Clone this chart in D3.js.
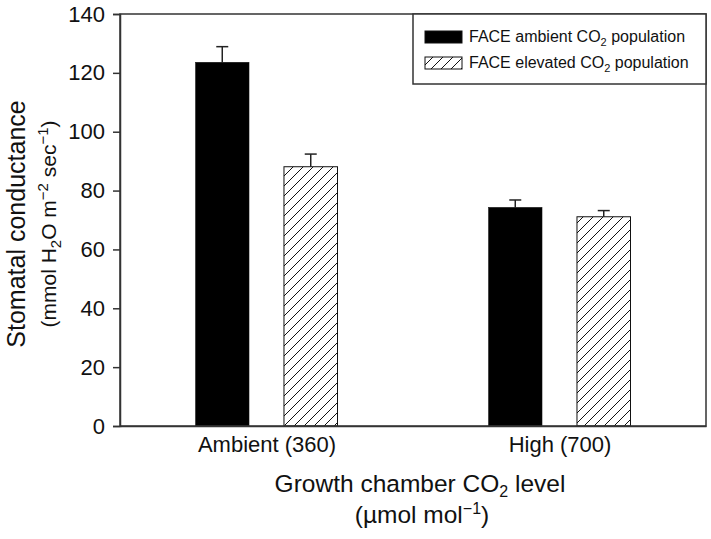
<!DOCTYPE html>
<html><head><meta charset="utf-8">
<script src="https://cdn.jsdelivr.net/npm/d3@7"></script>
<style>body{margin:0;background:#fff}svg{display:block;font-family:"Liberation Sans",Arial,sans-serif}</style>
</head><body><svg id="c" width="711" height="539"></svg>
<script>
const categories = ["Ambient (360)", "High (700)"];
const seriesNames = ["FACE ambient CO2 population", "FACE elevated CO2 population"];
const ambientPop = [123.6, 74.3];
const ambientErr = [5.3, 2.5];
const elevatedPop = [88.1, 71.1];
const elevatedErr = [4.3, 2.1];
const yTicks = [0, 20, 40, 60, 80, 100, 120, 140];

const svg = d3.select("#c");
const L = 120, R = 706, T = 14, B = 426;

const defs = svg.append("defs");
const pat = defs.append("pattern").attr("id","hatch").attr("patternUnits","userSpaceOnUse")
  .attr("width",10).attr("height",10);
pat.append("path").attr("d","M-1,11 L11,-1 M-3,3 L3,-3 M7,13 L13,7")
  .attr("stroke","#111").attr("stroke-width",1).attr("fill","none");

const x0 = d3.scalePoint().domain(categories).range([L, R]).padding(0.5);
const x1 = d3.scaleBand().domain([0,1]).range([-71, 71]).paddingInner(0.395);
const y = d3.scaleLinear().domain([0, 140]).range([B, T]);

const series = [
  {vals: ambientPop, errs: ambientErr, fill: "#000"},
  {vals: elevatedPop, errs: elevatedErr, fill: "url(#hatch)"}
];

series.forEach((s, si) => {
  const g = svg.append("g");
  categories.forEach((c, ci) => {
    const xb = x0(c) + x1(si), w = x1.bandwidth();
    const xc = xb + w/2;
    g.append("line").attr("x1",xc).attr("x2",xc).attr("y1",y(s.vals[ci])).attr("y2",y(s.vals[ci]+s.errs[ci]))
      .attr("stroke","#222").attr("stroke-width",1.5);
    g.append("line").attr("x1",xc-6).attr("x2",xc+6).attr("y1",y(s.vals[ci]+s.errs[ci])).attr("y2",y(s.vals[ci]+s.errs[ci]))
      .attr("stroke","#222").attr("stroke-width",1.5);
    g.append("rect").attr("x",xb).attr("y",y(s.vals[ci])).attr("width",w).attr("height",B - y(s.vals[ci]))
      .attr("fill", s.fill).attr("stroke","#111").attr("stroke-width", si===1?1:0.5);
  });
});

svg.append("rect").attr("x",L).attr("y",T).attr("width",R-L).attr("height",B-T)
  .attr("fill","none").attr("stroke","#333").attr("stroke-width",1.5);

const yAxis = svg.append("g").attr("transform",`translate(${L},0)`)
  .call(d3.axisLeft(y).tickValues(yTicks).tickSize(7).tickPadding(8));
yAxis.select(".domain").attr("stroke","#333").attr("stroke-width",1.5);
yAxis.selectAll(".tick line").attr("stroke","#333").attr("stroke-width",1.5);
yAxis.selectAll("text").attr("font-size",22).attr("fill","#111").attr("font-family","Liberation Sans, Arial, sans-serif");

const xAxis = svg.append("g").attr("transform",`translate(0,${B})`)
  .call(d3.axisBottom(x0).tickSize(0).tickPadding(10));
xAxis.select(".domain").attr("stroke","#333").attr("stroke-width",1.5);
xAxis.selectAll("text").attr("font-size",22).attr("fill","#111").attr("font-family","Liberation Sans, Arial, sans-serif");

const xt = svg.append("text").attr("x",420).attr("y",492).attr("text-anchor","middle").attr("font-size",24.5).attr("fill","#111");
xt.append("tspan").text("Growth chamber CO");
xt.append("tspan").attr("font-size",16).attr("dy",5).text("2");
xt.append("tspan").attr("dy",-5).text(" level");
const xt2 = svg.append("text").attr("x",422).attr("y",523).attr("text-anchor","middle").attr("font-size",24.5).attr("fill","#111");
xt2.append("tspan").text("(µmol mol");
xt2.append("tspan").attr("font-size",16).attr("dy",-9).text("−1");
xt2.append("tspan").attr("dy",9).text(")");

const yc = (T+B)/2 + 4;
svg.append("text").attr("transform",`translate(25,${yc}) rotate(-90)`).attr("text-anchor","middle")
  .attr("font-size",25).attr("fill","#111").text("Stomatal conductance");
const yt2 = svg.append("text").attr("transform",`translate(56,${yc}) rotate(-90)`).attr("text-anchor","middle")
  .attr("font-size",21).attr("fill","#111");
yt2.append("tspan").text("(mmol H");
yt2.append("tspan").attr("font-size",15).attr("dy",5).text("2");
yt2.append("tspan").attr("dy",-5).text("O m");
yt2.append("tspan").attr("font-size",15).attr("dy",-8).text("−2");
yt2.append("tspan").attr("dy",8).text(" sec");
yt2.append("tspan").attr("font-size",15).attr("dy",-8).text("−1");
yt2.append("tspan").attr("dy",8).text(")");

const lg = svg.append("g");
lg.append("rect").attr("x",413).attr("y",T).attr("width",R-413).attr("height",70)
  .attr("fill","#fff").attr("stroke","#333").attr("stroke-width",1.5);
const fills = ["#000","url(#hatch)"];
seriesNames.forEach((n, i) => {
  const yy = 31 + i*26;
  lg.append("rect").attr("x",425).attr("y",yy).attr("width",37).attr("height",12)
    .attr("fill",fills[i]).attr("stroke","#111").attr("stroke-width",1);
  const t = lg.append("text").attr("x",469).attr("y",yy+11).attr("font-size",16).attr("fill","#111");
  const parts = n.split("CO2");
  t.append("tspan").text(parts[0] + "CO");
  t.append("tspan").attr("font-size",11).attr("dy",4).text("2");
  t.append("tspan").attr("dy",-4).text(parts[1]);
});
</script></body></html>
